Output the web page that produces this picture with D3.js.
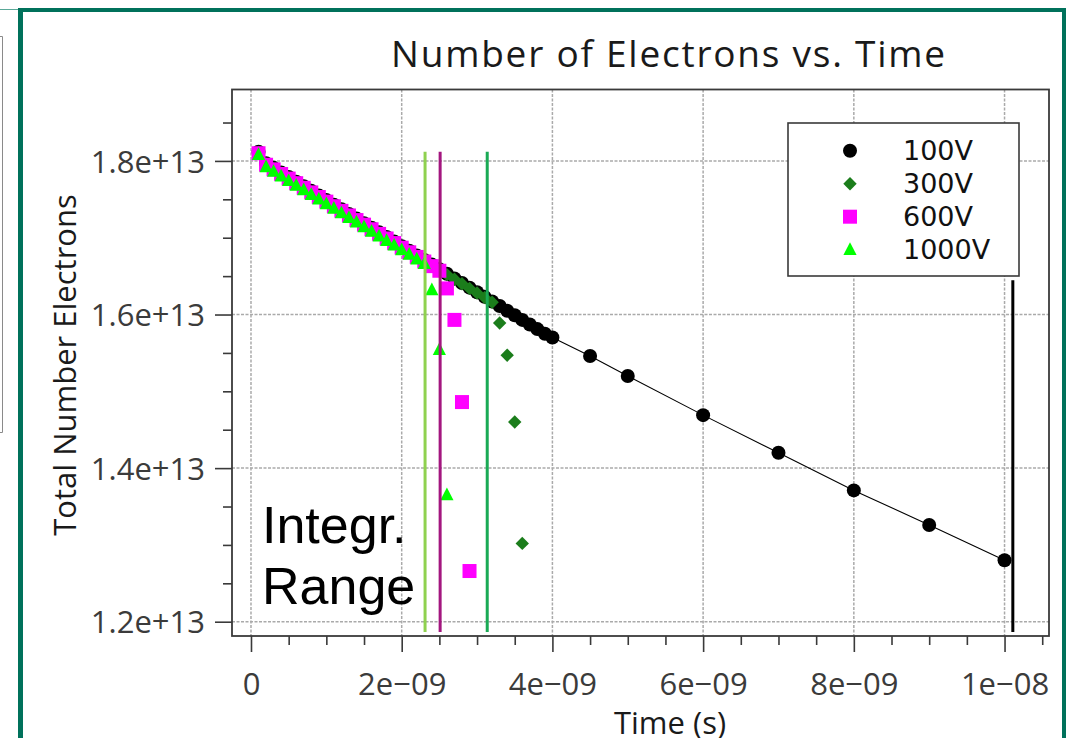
<!DOCTYPE html>
<html><head><meta charset="utf-8">
<script src="https://cdn.jsdelivr.net/npm/d3@7"></script>
<style>html,body{margin:0;padding:0;background:#fff;} svg{display:block}</style>
</head><body>
<svg id="c" width="1068" height="738"></svg>
<script>
// ---------- data (time in ns, electrons in units of 1e13) ----------
const titleText = "Number of Electrons vs. Time";
const xLabelText = "Time (s)";
const yLabelText = "Total Number Electrons";
const xTickValues = [0, 2, 4, 6, 8, 10];
const xTickLabels = ["0", "2e\u221209", "4e\u221209", "6e\u221209", "8e\u221209", "1e\u221208"];
const yTickValues = [1.2, 1.4, 1.6, 1.8];
const yTickLabels = ["1.2e+13", "1.4e+13", "1.6e+13", "1.8e+13"];
const seriesNames = ["100V", "300V", "600V", "1000V"];
const seriesColors = ["#000000", "#1b7d1b", "#ff00ff", "#00ff00"];

const t100 = [0.1,0.2,0.3,0.4,0.5,0.6,0.7,0.8,0.9,1.0,1.1,1.2,1.3,1.4,1.5,1.6,1.7,1.8,1.9,2.0,
              2.1,2.2,2.3,2.4,2.5,2.6,2.7,2.8,2.9,3.0,3.1,3.2,3.3,3.4,3.5,3.6,3.7,3.8,3.9,4.0,
              4.5,5,6,7,8,9,10];
const n100 = [1.812,1.797,1.791,1.785,1.779,1.773,1.767,1.761,1.755,1.749,1.743,1.737,1.731,1.725,1.719,1.713,1.707,1.701,1.695,1.689,
              1.683,1.677,1.671,1.665,1.659,1.653,1.647,1.641,1.635,1.629,1.623,1.617,1.611,1.605,1.599,1.593,1.587,1.581,1.575,1.570,
              1.546,1.520,1.469,1.420,1.371,1.326,1.280];

const t300 = [0.1,0.2,0.3,0.4,0.5,0.6,0.7,0.8,0.9,1.0,1.1,1.2,1.3,1.4,1.5,1.6,1.7,1.8,1.9,2.0,
              2.1,2.2,2.3,2.4,2.5,2.6,2.7,2.8,2.9,3.0,3.1,3.2,3.3,3.4,3.5,3.6];
const n300 = [1.811,1.796,1.790,1.784,1.778,1.772,1.766,1.760,1.754,1.748,1.742,1.736,1.730,1.724,1.718,1.712,1.706,1.700,1.694,1.688,
              1.682,1.676,1.670,1.664,1.658,1.652,1.646,1.640,1.634,1.628,1.622,1.616,1.589,1.547,1.460,1.302];

const t600 = [0.1,0.2,0.3,0.4,0.5,0.6,0.7,0.8,0.9,1.0,1.1,1.2,1.3,1.4,1.5,1.6,1.7,1.8,1.9,2.0,
              2.1,2.2,2.3,2.4,2.5,2.6,2.7,2.8,2.9];
const n600 = [1.810,1.795,1.789,1.783,1.777,1.771,1.765,1.759,1.753,1.747,1.741,1.735,1.729,1.723,1.717,1.711,1.705,1.699,1.693,1.687,
              1.681,1.675,1.669,1.663,1.657,1.634,1.593,1.486,1.266];

const t1000 = [0.1,0.2,0.3,0.4,0.5,0.6,0.7,0.8,0.9,1.0,1.1,1.2,1.3,1.4,1.5,1.6,1.7,1.8,1.9,2.0,
               2.1,2.2,2.3,2.4,2.5,2.6];
const n1000 = [1.808,1.792,1.786,1.780,1.774,1.768,1.762,1.756,1.750,1.744,1.738,1.732,1.726,1.720,1.714,1.708,1.702,1.696,1.690,1.684,
               1.678,1.672,1.666,1.632,1.554,1.365];

// integration range markers
const rangeT = [2.31, 2.51, 3.135, 10.11];
const rangeTop = [1.812, 1.812, 1.812, 1.6446];
const rangeBottom = [1.1866, 1.1866, 1.1866, 1.1866];
const rangeColors = ["#8fd14f", "#a3167f", "#1aaa55", "#000000"];

// ---------- layout ----------
const svg = d3.select("#c");
const P = {l: 232, r: 1049, t: 89.5, b: 636};
const x = d3.scaleLinear().domain([-0.252, 10.59]).range([P.l, P.r]);
const y = d3.scaleLinear().domain([1.1814, 1.893]).range([P.b, P.t]);
const tickFont = "'Open Sans', 'Noto Sans', sans-serif";

// outer chrome
svg.append("rect").attr("x", 18).attr("y", 8).attr("width", 1048).attr("height", 4).attr("fill", "#00715b");
svg.append("rect").attr("x", 18).attr("y", 8).attr("width", 5).attr("height", 730).attr("fill", "#00715b");
svg.append("rect").attr("x", 1062).attr("y", 8).attr("width", 4).attr("height", 730).attr("fill", "#00715b");
svg.append("line").attr("x1", 0).attr("x2", 18).attr("y1", 9.5).attr("y2", 9.5).attr("stroke", "#5aa898").attr("stroke-width", 1);
svg.append("path").attr("d", "M0,36.5 H2.5 V432.5 H0").attr("fill", "none").attr("stroke", "#8a8a8a").attr("stroke-width", 1);

// grid
const grid = svg.append("g");
grid.selectAll("line.gx").data(xTickValues).join("line")
  .attr("x1", d => x(d)).attr("x2", d => x(d)).attr("y1", P.t).attr("y2", P.b)
  .attr("stroke", "#aaaaaa").attr("stroke-width", 1.5).attr("stroke-dasharray", "3,1.5");
grid.selectAll("line.gy").data(yTickValues).join("line")
  .attr("y1", d => y(d)).attr("y2", d => y(d)).attr("x1", P.l).attr("x2", P.r)
  .attr("stroke", "#aaaaaa").attr("stroke-width", 1.5).attr("stroke-dasharray", "3,1.5");

// axes
const xMinor = d3.range(0.5, 10.6, 0.5).filter(v => Math.abs(v / 2 - Math.round(v / 2)) > 1e-6);
const yMinor = d3.range(1.25, 1.86, 0.05).filter(v => !yTickValues.some(t => Math.abs(t - v) < 1e-6));

const gx = svg.append("g").attr("transform", `translate(0,${P.b})`)
  .call(d3.axisBottom(x).tickValues(xTickValues).tickFormat((d, i) => xTickLabels[i]).tickSize(16).tickPadding(21));
const gxm = svg.append("g").attr("transform", `translate(0,${P.b})`)
  .call(d3.axisBottom(x).tickValues(xMinor).tickFormat("").tickSize(9));
const gy = svg.append("g").attr("transform", `translate(${P.l},0)`)
  .call(d3.axisLeft(y).tickValues(yTickValues).tickFormat((d, i) => yTickLabels[i]).tickSize(17).tickPadding(10));
const gym = svg.append("g").attr("transform", `translate(${P.l},0)`)
  .call(d3.axisLeft(y).tickValues(yMinor).tickFormat("").tickSize(9));
[gx, gxm, gy, gym].forEach(g => {
  g.select(".domain").remove();
  g.selectAll(".tick line").attr("stroke", "#3a3a3a").attr("stroke-width", 1.6);
  g.selectAll(".tick text").attr("fill", "#3b3b3b").attr("font-family", tickFont).attr("font-size", 31);
});
gx.selectAll(".tick text").attr("dy", "0.71em");
gy.selectAll(".tick text").attr("dy", "0.36em");

// 100V line
svg.append("path").datum(t100.map((t, i) => [t, n100[i]]))
  .attr("d", d3.line().x(d => x(d[0])).y(d => y(d[1])))
  .attr("fill", "none").attr("stroke", "#000").attr("stroke-width", 1.1);

// markers
function drawMarker(sel, kind, color) {
  if (kind === 0) sel.append("circle").attr("r", 7).attr("fill", color);
  else if (kind === 1) sel.append("path").attr("d", "M0,-6.7L6.7,0L0,6.7L-6.7,0Z").attr("fill", color);
  else if (kind === 2) sel.append("rect").attr("x", -7).attr("y", -7).attr("width", 14).attr("height", 14).attr("fill", color);
  else sel.append("path").attr("d", "M0,-7.5L6.6,5.2L-6.6,5.2Z").attr("fill", color);
}
const allT = [t100, t300, t600, t1000];
const allN = [n100, n300, n600, n1000];
allT.forEach((ts, k) => {
  const g = svg.append("g");
  ts.forEach((t, i) => {
    const m = g.append("g").attr("transform", `translate(${x(t)},${y(allN[k][i])})`);
    drawMarker(m, k, seriesColors[k]);
  });
});

// integration range lines
rangeT.forEach((t, i) => {
  svg.append("line").attr("x1", x(t)).attr("x2", x(t)).attr("y1", y(rangeTop[i])).attr("y2", y(rangeBottom[i]))
    .attr("stroke", rangeColors[i]).attr("stroke-width", 3);
});

// frame
svg.append("rect").attr("x", P.l).attr("y", P.t).attr("width", P.r - P.l).attr("height", P.b - P.t)
  .attr("fill", "none").attr("stroke", "#3a3a3a").attr("stroke-width", 1.8);

// legend
const lg = svg.append("g");
lg.append("rect").attr("x", 788).attr("y", 123).attr("width", 231).attr("height", 153)
  .attr("fill", "#fff").attr("stroke", "#3a3a3a").attr("stroke-width", 1.6);
seriesNames.forEach((name, k) => {
  const cy = 150.7 + 33 * k;
  const m = lg.append("g").attr("transform", `translate(850,${cy})`);
  drawMarker(m, k, seriesColors[k]);
  lg.append("text").attr("x", 903).attr("y", cy).attr("dy", "0.36em").text(name)
    .attr("font-family", "'DejaVu Sans', sans-serif").attr("font-size", 27).attr("fill", "#111");
});

// title
const tt = svg.append("text").attr("x", 669).attr("y", 67).attr("text-anchor", "middle")
  .attr("font-family", tickFont).attr("font-size", 37).attr("fill", "#1a1a1a").text(titleText);
const tw = tt.node().getComputedTextLength();
tt.attr("letter-spacing", Math.max(0, (554 - tw) / (titleText.length - 1)));

// axis titles
svg.append("text").attr("x", 670).attr("y", 734).attr("text-anchor", "middle")
  .attr("font-family", tickFont).attr("font-size", 31).attr("fill", "#1a1a1a").text(xLabelText);
svg.append("text").attr("transform", "translate(76,365) rotate(-90)").attr("text-anchor", "middle")
  .attr("font-family", tickFont).attr("font-size", 31).attr("fill", "#1a1a1a").text(yLabelText);

// annotation
const ann = svg.append("text").attr("font-family", "'Liberation Sans', Arial, sans-serif").attr("font-size", 52).attr("fill", "#000");
ann.append("tspan").attr("x", 262).attr("y", 543).text("Integr.");
ann.append("tspan").attr("x", 262).attr("y", 604).text("Range");
</script>
</body></html>
